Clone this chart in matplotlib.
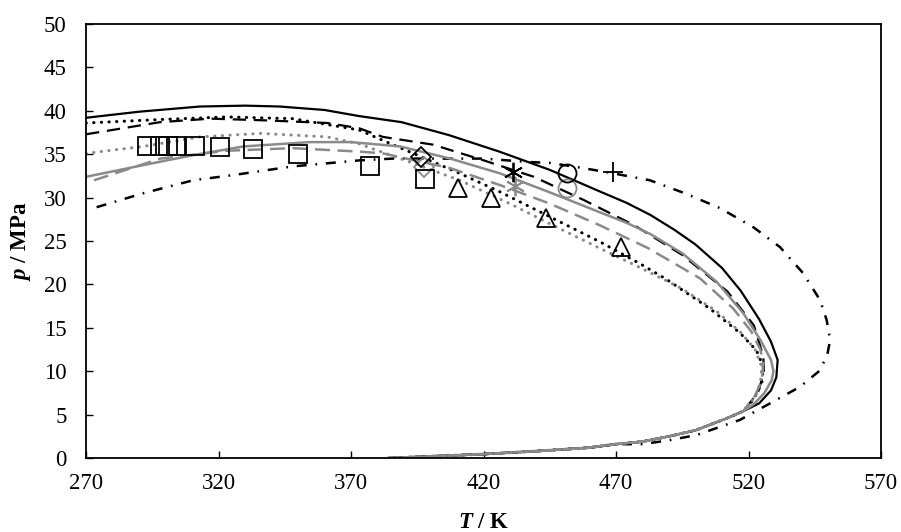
import matplotlib
matplotlib.use("Agg")
import matplotlib.pyplot as plt

plt.rcParams["font.family"] = ["Liberation Serif", "DejaVu Serif"]
plt.rcParams["mathtext.fontset"] = "custom"
plt.rcParams["mathtext.rm"] = "Liberation Serif"
plt.rcParams["mathtext.it"] = "Liberation Serif:italic"
plt.rcParams["mathtext.bf"] = "Liberation Serif:bold"
plt.rcParams["mathtext.bfit"] = "Liberation Serif:italic:bold"

# shared lower (dew) branch of the envelopes
bottom_T = [518, 512, 500, 490, 480, 470, 460, 440, 420, 400, 384]
bottom_p = [5.4, 4.6, 3.2, 2.5, 1.9, 1.6, 1.2, 0.8, 0.45, 0.2, 0.0]

# model curves, upper branch + nose
solid_T = [270, 290, 313, 330, 343, 360, 373, 389, 407, 426, 445, 464, 474, 483, 492, 500, 510, 517, 524, 528.5, 531, 530.5, 528.5, 524]
solid_p = [39.2, 39.9, 40.5, 40.6, 40.5, 40.1, 39.4, 38.7, 37.2, 35.3, 33.2, 30.7, 29.4, 28.0, 26.3, 24.6, 21.9, 19.3, 16.0, 13.4, 11.3, 9.3, 7.8, 6.3]

dotted_T = [270, 298, 323, 348, 373, 382, 395, 411, 426, 445, 464, 479, 489, 505.5, 516.8, 523, 525.6, 525, 521.8]
dotted_p = [38.6, 39.0, 39.3, 39.1, 37.8, 36.6, 34.9, 32.8, 30.7, 27.8, 24.9, 22.4, 20.6, 17.2, 14.4, 12.4, 10.5, 8.6, 6.7]

dashed_T = [270, 298, 317, 338, 361, 373, 382, 401, 420, 439, 458, 477, 495, 512, 522, 525.6, 525.8, 523.5]
dashed_p = [37.3, 38.7, 39.1, 38.9, 38.6, 38.0, 37.0, 36.1, 34.3, 32.4, 29.7, 26.8, 23.4, 19.2, 15.3, 11.7, 9.8, 7.5]

gdotted_T = [270, 291.6, 313, 336, 361, 373, 395, 411, 430, 447.6, 467.7, 480, 495, 508, 517, 522.5, 525, 524.5, 522.5]
gdotted_p = [35.1, 35.9, 37.0, 37.4, 37.0, 36.2, 33.8, 32.0, 29.3, 26.6, 23.6, 21.8, 19.5, 16.9, 14.5, 12.5, 10.5, 8.6, 7.0]

gsolid_T = [270, 291.6, 310.5, 329.4, 354.5, 370, 388.5, 407.4, 426.2, 445.1, 464, 474, 483, 495, 508, 518, 524.5, 528.5, 529.4, 528.8, 526, 522]
gsolid_p = [32.4, 33.75, 34.9, 35.9, 36.4, 36.4, 35.9, 34.5, 32.8, 30.6, 28.3, 27.1, 25.8, 23.6, 20.3, 16.7, 13.6, 11.3, 10.0, 9.0, 7.5, 6.2]

gdashed_T = [273, 298, 323, 348, 373.4, 382, 407.4, 426.2, 445.1, 464, 482, 501.7, 514.3, 521, 524.5, 525.6, 525, 522.5]
gdashed_p = [32.0, 34.5, 35.4, 35.7, 35.3, 35.1, 33.4, 31.45, 29.3, 26.8, 24.2, 20.7, 17.2, 14.6, 12.5, 10.9, 9.0, 7.2]

dashdot_T = [274, 291.5, 310.4, 325.5, 348, 373.4, 385.8, 407.4, 419.9, 437.5, 445.1, 457.7, 468.9, 482.8, 496, 509.2,
             521.8, 531.9, 540.6, 547, 549.5, 550.8, 549.8, 547, 539.4, 529.3, 516.8, 500.4, 490, 480]
dashdot_p = [28.9, 30.5, 32.0, 32.6, 33.6, 34.3, 34.5, 34.5, 34.5, 34.1, 34.0, 33.4, 32.8, 32.0, 30.5, 28.8,
             26.6, 24.3, 21.3, 18.2, 15.9, 13.6, 12.0, 10.1, 8.2, 6.5, 4.4, 2.65, 2.05, 1.6]

# experimental points
sq_T = [293, 298, 301, 304, 311, 320.5, 333, 350, 377, 398]
sq_p = [36.0, 36.0, 36.0, 36.0, 35.9, 35.8, 35.6, 35.0, 33.7, 32.2]
tri_T = [410.5, 422.7, 443.5, 471.9]
tri_p = [31.1, 30.0, 27.7, 24.3]
dia_T, dia_p = [396.3], [34.7]
gdia_T, gdia_p = [397.5], [33.5]
ast_T, ast_p = [431.2], [33.0]
gast_T, gast_p = [431.9], [31.3]
circ_T, circ_p = [451.4], [32.8]
gcirc_T, gcirc_p = [451.4], [31.1]
plus_T, plus_p = [469.0], [32.9]

GREY = "#8a8a8a"

fig = plt.figure(figsize=(9.01, 5.32), dpi=100)
ax = fig.add_axes([0.0955, 0.139, 0.8823, 0.8158])

dot = (0, (0.1, 2.4))


def env(T, p):
    return T + bottom_T, p + bottom_p


x, y = env(solid_T, solid_p)
ax.plot(x, y, color="black", lw=1.6)
x, y = env(dotted_T, dotted_p)
ax.plot(x, y, color="black", lw=2.2, ls=dot, dash_capstyle="round")
x, y = env(dashed_T, dashed_p)
ax.plot(x, y, color="black", lw=1.6, ls=(0, (6, 3.5)))
x, y = dashdot_T + bottom_T[5:], dashdot_p + bottom_p[5:]
ax.plot(x, y, color="black", lw=1.8, ls=(0, (4, 3.5, 0.7, 3.5)))
x, y = env(gdotted_T, gdotted_p)
ax.plot(x, y, color=GREY, lw=2.2, ls=dot, dash_capstyle="round")
x, y = env(gdashed_T, gdashed_p)
ax.plot(x, y, color=GREY, lw=1.8, ls=(0, (6, 3)))
x, y = env(gsolid_T, gsolid_p)
ax.plot(x, y, color=GREY, lw=1.8)

mk = dict(ls="none", mfc="none", mew=1.3)
ax.plot(gdia_T, gdia_p, marker="D", ms=10, mec=GREY, **mk)
ax.plot(sq_T, sq_p, marker="s", ms=13, mec="black", **mk)
ax.plot(tri_T, tri_p, marker="^", ms=13, mec="black", **mk)
ax.plot(dia_T, dia_p, marker="D", ms=10, mec="black", **mk)
ax.plot(gast_T, gast_p, marker=(6, 2, 0), ms=14, mec=GREY, **mk)
ax.plot(ast_T, ast_p, marker=(6, 2, 0), ms=14, mec="black", **mk)
ax.plot(gcirc_T, gcirc_p, marker="o", ms=13, mec=GREY, **mk)
ax.plot(circ_T, circ_p, marker="o", ms=13, mec="black", **mk)
ax.plot(plus_T, plus_p, marker="+", ms=15, mec="black", **mk)

ax.set_xlim(270, 570)
ax.set_ylim(0, 50)
ax.set_xticks(range(270, 571, 50))
ax.set_yticks(range(0, 51, 5))
ax.tick_params(direction="in", length=5, width=1.0, labelsize=16.5, top=False, right=False)
ax.tick_params(axis="y", pad=14)
ax.tick_params(axis="x", pad=11)
for s in ax.spines.values():
    s.set_linewidth(1.3)

ax.set_xlabel(r"$\mathbfit{T}$ / K", fontsize=16.5, fontweight="bold", labelpad=13)
ax.set_ylabel(r"$\mathbfit{p}$ / MPa", fontsize=16.5, fontweight="bold", labelpad=8)

fig.savefig("out.png", dpi=100)
